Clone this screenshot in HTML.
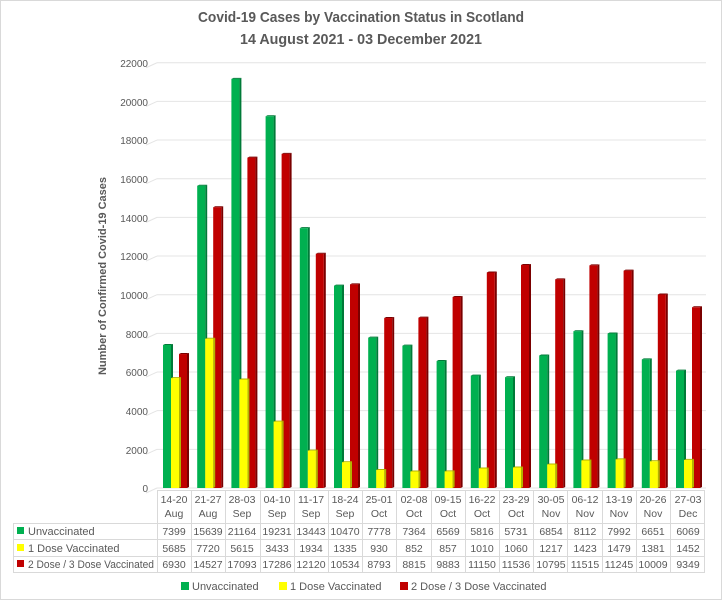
<!DOCTYPE html>
<html><head><meta charset="utf-8"><style>
html,body{margin:0;padding:0;background:#fff;}
svg{display:block;font-family:"Liberation Sans",sans-serif;}
</style></head><body>
<svg id="s" width="722" height="600" viewBox="0 0 722 600">
<rect x="0.5" y="0.5" width="721" height="599" fill="#fff" stroke="#d9d9d9"/>
<text x="361" y="22" text-anchor="middle" font-size="15" font-weight="bold" fill="#595959" textLength="326" lengthAdjust="spacingAndGlyphs">Covid-19 Cases by Vaccination Status in Scotland</text>
<text x="361" y="44" text-anchor="middle" font-size="15" font-weight="bold" fill="#595959" textLength="242" lengthAdjust="spacingAndGlyphs">14 August 2021 - 03 December 2021</text>
<g id="grid"></g>
<g font-size="10" fill="#595959" text-anchor="end">
<text x="148" y="67">22000</text><text x="148" y="106">20000</text><text x="148" y="144">18000</text><text x="148" y="183">16000</text><text x="148" y="222">14000</text><text x="148" y="260">12000</text><text x="148" y="299">10000</text><text x="148" y="338">8000</text><text x="148" y="376">6000</text><text x="148" y="415">4000</text><text x="148" y="454">2000</text><text x="148" y="492">0</text>
</g>
<text transform="translate(106,276) rotate(-90)" text-anchor="middle" font-size="11" font-weight="bold" fill="#595959">Number of Confirmed Covid-19 Cases</text>
<g id="bars"></g>
<g id="tbl" stroke="#d9d9d9" stroke-width="1"></g>
<g font-size="11" fill="#595959">
<rect x="17" y="527" width="7" height="7" fill="#00b050"/><text x="28" y="535">Unvaccinated</text>
<rect x="17" y="544" width="7" height="7" fill="#ffff00"/><text x="28" y="552">1 Dose Vaccinated</text>
<rect x="17" y="560" width="7" height="7" fill="#c00000"/><text x="28" y="568" textLength="126" lengthAdjust="spacingAndGlyphs">2 Dose / 3 Dose Vaccinated</text>
<rect x="181" y="582" width="8" height="8" fill="#00b050"/><text x="192" y="590">Unvaccinated</text>
<rect x="279" y="582" width="8" height="8" fill="#ffff00"/><text x="290" y="590">1 Dose Vaccinated</text>
<rect x="400" y="582" width="8" height="8" fill="#c00000"/><text x="411" y="590">2 Dose / 3 Dose Vaccinated</text>
</g>
<g font-size="10.5" fill="#595959" text-anchor="middle">
<text x="174" y="503">14-20</text><text x="174" y="517">Aug</text>
<text x="208" y="503">21-27</text><text x="208" y="517">Aug</text>
<text x="242" y="503">28-03</text><text x="242" y="517">Sep</text>
<text x="277" y="503">04-10</text><text x="277" y="517">Sep</text>
<text x="311" y="503">11-17</text><text x="311" y="517">Sep</text>
<text x="345" y="503">18-24</text><text x="345" y="517">Sep</text>
<text x="379" y="503">25-01</text><text x="379" y="517">Oct</text>
<text x="414" y="503">02-08</text><text x="414" y="517">Oct</text>
<text x="448" y="503">09-15</text><text x="448" y="517">Oct</text>
<text x="482" y="503">16-22</text><text x="482" y="517">Oct</text>
<text x="516" y="503">23-29</text><text x="516" y="517">Oct</text>
<text x="551" y="503">30-05</text><text x="551" y="517">Nov</text>
<text x="585" y="503">06-12</text><text x="585" y="517">Nov</text>
<text x="619" y="503">13-19</text><text x="619" y="517">Nov</text>
<text x="653" y="503">20-26</text><text x="653" y="517">Nov</text>
<text x="688" y="503">27-03</text><text x="688" y="517">Dec</text>

<text x="174" y="535">7399</text><text x="208" y="535">15639</text><text x="242" y="535">21164</text><text x="277" y="535">19231</text><text x="311" y="535">13443</text><text x="345" y="535">10470</text><text x="379" y="535">7778</text><text x="414" y="535">7364</text><text x="448" y="535">6569</text><text x="482" y="535">5816</text><text x="516" y="535">5731</text><text x="551" y="535">6854</text><text x="585" y="535">8112</text><text x="619" y="535">7992</text><text x="653" y="535">6651</text><text x="688" y="535">6069</text>

<text x="174" y="552">5685</text><text x="208" y="552">7720</text><text x="242" y="552">5615</text><text x="277" y="552">3433</text><text x="311" y="552">1934</text><text x="345" y="552">1335</text><text x="379" y="552">930</text><text x="414" y="552">852</text><text x="448" y="552">857</text><text x="482" y="552">1010</text><text x="516" y="552">1060</text><text x="551" y="552">1217</text><text x="585" y="552">1423</text><text x="619" y="552">1479</text><text x="653" y="552">1381</text><text x="688" y="552">1452</text>

<text x="174" y="568">6930</text><text x="208" y="568">14527</text><text x="242" y="568">17093</text><text x="277" y="568">17286</text><text x="311" y="568">12120</text><text x="345" y="568">10534</text><text x="379" y="568">8793</text><text x="414" y="568">8815</text><text x="448" y="568">9883</text><text x="482" y="568">11150</text><text x="516" y="568">11536</text><text x="551" y="568">10795</text><text x="585" y="568">11515</text><text x="619" y="568">11245</text><text x="653" y="568">10009</text><text x="688" y="568">9349</text>
</g>
<script>
(function(){
var ns="http://www.w3.org/2000/svg";
function el(p,t,a){var e=document.createElementNS(ns,t);for(var k in a)e.setAttribute(k,a[k]);p.appendChild(e);return e;}
var g=document.getElementById("grid");
for(var i=0;i<=11;i++){var y=488-i*2000*0.01933;
el(g,"line",{x1:157,y1:y,x2:706,y2:y,stroke:"#e4e4e4","stroke-width":1});
el(g,"line",{x1:146,y1:y+5,x2:157,y2:y,stroke:"#e4e4e4","stroke-width":1});}
var U=[7399,15639,21164,19231,13443,10470,7778,7364,6569,5816,5731,6854,8112,7992,6651,6069];
var D1=[5685,7720,5615,3433,1934,1335,930,852,857,1010,1060,1217,1423,1479,1381,1452];
var D2=[6930,14527,17093,17286,12120,10534,8793,8815,9883,11150,11536,10795,11515,11245,10009,9349];
var b=document.getElementById("bars");
function bar(x,v,c,d){var h=v*0.01933,y=488-h;
el(b,"polygon",{points:(x+8)+","+y+" "+(x+10)+","+(y-1)+" "+(x+10)+","+(487)+" "+(x+8)+",488",fill:d});
el(b,"polygon",{points:x+","+y+" "+(x+2)+","+(y-1)+" "+(x+10)+","+(y-1)+" "+(x+8)+","+y,fill:d});
el(b,"rect",{x:x,y:y,width:8,height:h,fill:c});}
for(var i=0;i<16;i++){var x0=157+34.2*i;
bar(x0+6,U[i],"#00b050","#007a38");
bar(x0+22,D2[i],"#c00000","#7a0000");
bar(x0+14,D1[i],"#ffff00","#b3b300");}
var t=document.getElementById("tbl");
[490,523,539,556,572].forEach(function(y,j){el(t,"line",{x1:j==0?157:13,y1:y+0.5,x2:705,y2:y+0.5});});
for(var i=0;i<=16;i++){var x=Math.round(157+34.2*i)+0.5;el(t,"line",{x1:x,y1:490,x2:x,y2:572});}
el(t,"line",{x1:13.5,y1:523,x2:13.5,y2:572});
})();
</script>
</svg>
</body></html>
